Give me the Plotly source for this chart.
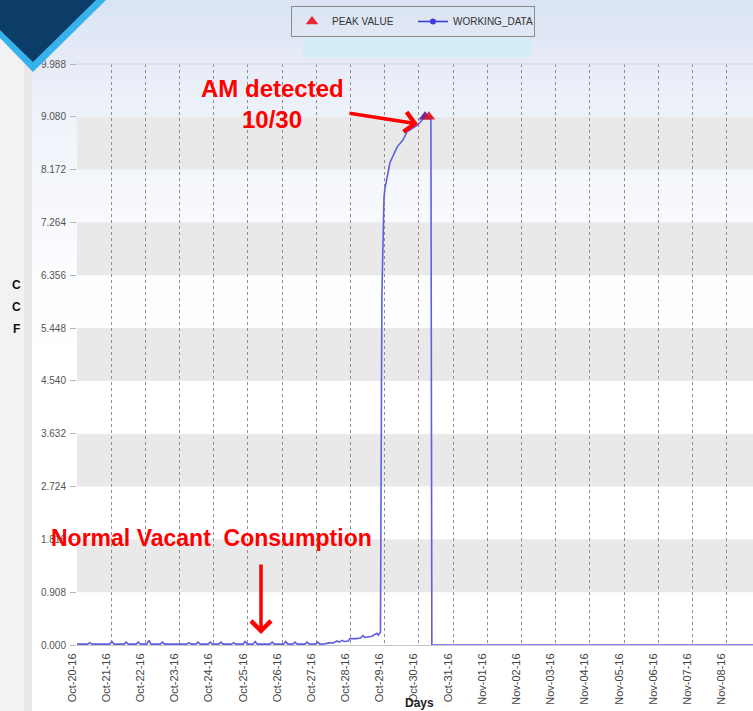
import plotly.graph_objects as go

# ---------------- data ----------------
work_times = [
    "2016-10-20 00:00", "2016-10-20 07:30", "2016-10-20 09:00", "2016-10-20 10:30",
    "2016-10-20 23:00", "2016-10-21 00:30", "2016-10-21 02:00",
    "2016-10-21 09:00", "2016-10-21 10:30", "2016-10-21 12:00",
    "2016-10-21 17:30", "2016-10-21 19:00", "2016-10-21 20:30",
    "2016-10-22 01:00", "2016-10-22 02:30", "2016-10-22 04:00",
    "2016-10-22 10:30", "2016-10-22 12:00", "2016-10-22 13:30",
    "2016-10-23 05:00", "2016-10-23 06:30", "2016-10-23 08:00",
    "2016-10-23 11:30", "2016-10-23 13:00", "2016-10-23 14:30",
    "2016-10-23 20:00", "2016-10-23 21:30", "2016-10-23 23:00",
    "2016-10-24 03:30", "2016-10-24 05:00", "2016-10-24 06:30",
    "2016-10-24 12:30", "2016-10-24 14:00", "2016-10-24 15:30",
    "2016-10-24 20:30", "2016-10-24 22:00", "2016-10-24 23:30",
    "2016-10-25 03:30", "2016-10-25 05:00", "2016-10-25 06:30",
    "2016-10-25 15:30", "2016-10-25 17:00", "2016-10-25 18:30",
    "2016-10-26 01:00", "2016-10-26 02:30", "2016-10-26 04:00",
    "2016-10-26 07:30", "2016-10-26 09:00", "2016-10-26 10:30",
    "2016-10-26 16:00", "2016-10-26 17:30", "2016-10-26 19:00",
    "2016-10-26 23:30", "2016-10-27 01:00", "2016-10-27 02:30",
    "2016-10-27 06:00", "2016-10-27 09:30", "2016-10-27 11:30",
    "2016-10-27 14:30", "2016-10-27 16:00", "2016-10-27 18:00",
    "2016-10-27 19:30", "2016-10-27 22:30", "2016-10-27 23:30",
    "2016-10-28 04:00", "2016-10-28 07:00", "2016-10-28 08:40",
    "2016-10-28 10:00", "2016-10-28 15:00", "2016-10-28 18:30",
    "2016-10-28 19:30", "2016-10-28 21:00", "2016-10-28 22:00",
    "2016-10-28 22:50", "2016-10-28 23:30", "2016-10-29 00:10",
    "2016-10-29 03:40", "2016-10-29 08:40", "2016-10-29 12:45",
    "2016-10-29 15:35", "2016-10-29 19:40", "2016-10-29 23:15",
    "2016-10-30 02:05", "2016-10-30 04:15", "2016-10-30 08:25",
    "2016-10-30 09:05", "2016-11-09 00:00",
]
work_values = [
    0.015, 0.015, 0.04, 0.015,
    0.015, 0.06, 0.015,
    0.015, 0.05, 0.015,
    0.015, 0.05, 0.015,
    0.015, 0.08, 0.015,
    0.015, 0.05, 0.015,
    0.015, 0.04, 0.015,
    0.015, 0.05, 0.015,
    0.015, 0.05, 0.015,
    0.015, 0.05, 0.015,
    0.015, 0.04, 0.015,
    0.015, 0.06, 0.015,
    0.015, 0.06, 0.015,
    0.015, 0.05, 0.015,
    0.015, 0.06, 0.015,
    0.015, 0.05, 0.015,
    0.015, 0.05, 0.015,
    0.015, 0.05, 0.015,
    0.02, 0.04, 0.03,
    0.07, 0.05, 0.08,
    0.06, 0.07, 0.11,
    0.11, 0.12, 0.16,
    0.13, 0.15, 0.20,
    0.17, 0.22, 6.00,
    7.30, 7.70, 7.85,
    8.29, 8.56, 8.68,
    8.82, 8.89, 8.94,
    9.02, 9.08, 9.08,
    0.0, 0.0,
]
peak_times = ["2016-10-30 04:15", "2016-10-30 07:00"]
peak_values = [9.08, 9.08]

day_ticks = [
    "2016-10-20", "2016-10-21", "2016-10-22", "2016-10-23", "2016-10-24",
    "2016-10-25", "2016-10-26", "2016-10-27", "2016-10-28", "2016-10-29",
    "2016-10-30", "2016-10-31", "2016-11-01", "2016-11-02", "2016-11-03",
    "2016-11-04", "2016-11-05", "2016-11-06", "2016-11-07", "2016-11-08",
]
y_ticks = [0.000, 0.908, 1.816, 2.724, 3.632, 4.540, 5.448, 6.356, 7.264, 8.172, 9.080, 9.988]
y_tick_labels = ["0.000", "0.908", "1.816", "2.724", "3.632", "4.540", "5.448",
                 "6.356", "7.264", "8.172", "9.080", "9.988"]
gray_bands = [(0.908, 1.816), (2.724, 3.632), (4.540, 5.448), (6.356, 7.264), (8.172, 9.080)]

# ---------------- geometry helpers ----------------
W, H = 753, 711
ML, MR, MT, MB = 77, 0, 64, 66
PW, PH = W - ML - MR, H - MT - MB


def px(x):
    return (x - ML) / PW


def py(y):
    return (H - MB - y) / PH


fig = go.Figure()

fig.add_trace(go.Scatter(
    x=work_times, y=work_values, mode="lines", name="WORKING_DATA",
    line=dict(color="#5f5fe0", width=1.6), showlegend=False, hoverinfo="x+y",
))
fig.add_trace(go.Scatter(
    x=[peak_times[0]], y=[peak_values[0]], mode="markers", showlegend=False,
    marker=dict(symbol="triangle-up", size=11, color="#5a2fa6"),
))
fig.add_trace(go.Scatter(
    x=[peak_times[1]], y=[peak_values[1]], mode="markers", name="PEAK VALUE",
    marker=dict(symbol="triangle-up", size=11, color="rgba(230,20,30,0.9)"),
))
# legend entry for working data (line with circle marker)
fig.add_trace(go.Scatter(
    x=[None], y=[None], mode="lines+markers", name="WORKING_DATA",
    line=dict(color="#3d3dd8", width=1.6),
    marker=dict(symbol="circle", size=6, color="#3d3dd8"),
))

shapes = []
# background vertical gradient (paper)
stops = [(0, (218, 227, 243)), (64, (231, 236, 247)), (130, (240, 243, 250)),
         (260, (251, 252, 254)), (360, (255, 255, 255))]
for i in range(len(stops) - 1):
    (y0, c0), (y1, c1) = stops[i], stops[i + 1]
    n = 8
    for k in range(n):
        a0 = y0 + (y1 - y0) * k / n
        a1 = y0 + (y1 - y0) * (k + 1) / n
        t = (k + 0.5) / n
        c = tuple(int(round(c0[j] + (c1[j] - c0[j]) * t)) for j in range(3))
        shapes.append(dict(type="rect", xref="paper", yref="paper",
                           x0=px(0), x1=px(W), y0=py(a1 + 0.5), y1=py(a0),
                           fillcolor="rgb(%d,%d,%d)" % c, line=dict(width=0), layer="below"))
# left gray strip
shapes.append(dict(type="rect", xref="paper", yref="paper", x0=px(0), x1=px(24),
                   y0=py(H), y1=py(0), fillcolor="#f2f2f2", line=dict(width=0), layer="below"))
shapes.append(dict(type="rect", xref="paper", yref="paper", x0=px(24), x1=px(32),
                   y0=py(H), y1=py(0), fillcolor="#e8e8e8", line=dict(width=0), layer="below"))
# plot-area white lower part
shapes.append(dict(type="rect", xref="paper", yref="paper", x0=0, x1=1,
                   y0=0, y1=py(360), fillcolor="#ffffff", line=dict(width=0), layer="below"))
# gray bands
for b0, b1 in gray_bands:
    shapes.append(dict(type="rect", xref="paper", yref="y", x0=0, x1=1, y0=b0, y1=b1,
                       fillcolor="#e9e9e9", line=dict(width=0), layer="below"))
# top border of plot
shapes.append(dict(type="line", xref="paper", yref="paper", x0=0, x1=1, y0=1, y1=1,
                   line=dict(color="#cfd3da", width=1)))
# light blue strip under legend
shapes.append(dict(type="rect", xref="paper", yref="paper", x0=px(303), x1=px(532),
                   y0=py(57), y1=py(37), fillcolor="#d3ecf8", line=dict(width=0), layer="above"))


def poly(pts):
    s = "M " + " L ".join("%f,%f" % (px(a), py(b)) for a, b in pts) + " Z"
    return s


# corner decoration
shapes.append(dict(type="path", xref="paper", yref="paper",
                   path=poly([(0, 0), (106, 0), (33, 72), (0, 38)]),
                   fillcolor="#38b2ec", line=dict(width=0), layer="above"))
shapes.append(dict(type="path", xref="paper", yref="paper",
                   path=poly([(0, 0), (96, 0), (33, 62), (0, 30)]),
                   fillcolor="#0c3d69", line=dict(width=0), layer="above"))

annotations = []
red = "#ff0000"
tfont = "Liberation Sans, Arial, sans-serif"
annotations.append(dict(xref="paper", yref="paper", x=px(272), y=py(88), text="<b>AM detected</b>",
                        showarrow=False, font=dict(family=tfont, size=24, color=red),
                        xanchor="center", yanchor="middle"))
annotations.append(dict(xref="paper", yref="paper", x=px(272), y=py(120), text="<b>10/30</b>",
                        showarrow=False, font=dict(family=tfont, size=24, color=red),
                        xanchor="center", yanchor="middle"))
annotations.append(dict(xref="paper", yref="paper", x=px(211), y=py(538),
                        text="<b>Normal Vacant\u00a0 Consumption</b>",
                        showarrow=False, font=dict(family=tfont, size=23, color=red),
                        xanchor="center", yanchor="middle"))
annotations.append(dict(xref="paper", yref="paper", x=px(418), y=py(124), text="",
                        showarrow=True, arrowhead=4, arrowsize=1.1, arrowwidth=3.5,
                        arrowcolor=red, ax=-70, ay=-11, standoff=0, startstandoff=0))
annotations.append(dict(xref="paper", yref="paper", x=px(261), y=py(634), text="",
                        showarrow=True, arrowhead=4, arrowsize=1.1, arrowwidth=3.5,
                        arrowcolor=red, ax=0, ay=-71, standoff=0, startstandoff=0))
for letter, yy in zip(["C", "C", "F"], [285, 307, 329]):
    annotations.append(dict(xref="paper", yref="paper", x=px(16), y=py(yy), text="<b>%s</b>" % letter,
                            showarrow=False, font=dict(family=tfont, size=12, color="#111"),
                            xanchor="center", yanchor="middle"))
annotations.append(dict(xref="paper", yref="paper", x=px(419), y=py(703), text="<b>Days</b>",
                        showarrow=False, font=dict(family=tfont, size=12, color="#222"),
                        xanchor="center", yanchor="middle"))

fig.update_layout(
    width=W, height=H,
    margin=dict(l=ML, r=MR, t=MT, b=MB, pad=0),
    paper_bgcolor="#ffffff",
    plot_bgcolor="rgba(0,0,0,0)",
    font=dict(family="Liberation Sans, Arial, sans-serif", size=10, color="#444"),
    shapes=shapes,
    annotations=annotations,
    showlegend=True,
    legend=dict(orientation="h", x=px(291), y=py(6), xanchor="left", yanchor="top",
                bordercolor="#8c8c8c", borderwidth=1, bgcolor="rgba(0,0,0,0)",
                font=dict(size=10, color="#333"), entrywidth=76, entrywidthmode="pixels",
                traceorder="normal", itemclick=False),
    xaxis=dict(
        type="date", range=["2016-10-20 00:00", "2016-11-08 18:30"],
        tickvals=day_ticks, tickformat="%b-%d-%y", tickangle=-90,
        tickfont=dict(size=11, color="#444"),
        showgrid=True, gridcolor="#8e8e8e", griddash="dot", gridwidth=1,
        showline=True, linecolor="#c8c8c8", linewidth=1,
        ticks="", zeroline=False, ticklabelshift=-5, ticklabelstandoff=3,
    ),
    yaxis=dict(
        range=[0, 9.988], tickvals=y_ticks, ticktext=y_tick_labels,
        tickfont=dict(size=10, color="#555"),
        showgrid=False, zeroline=False, showline=False,
        ticks="outside", ticklen=6, tickcolor="#b5b5b5", ticklabelstandoff=2,
    ),
)

fig.write_html(
    "out.html",
    config={"displayModeBar": False},
    post_script="document.body.style.margin='0';document.body.style.overflow='hidden';",
)
